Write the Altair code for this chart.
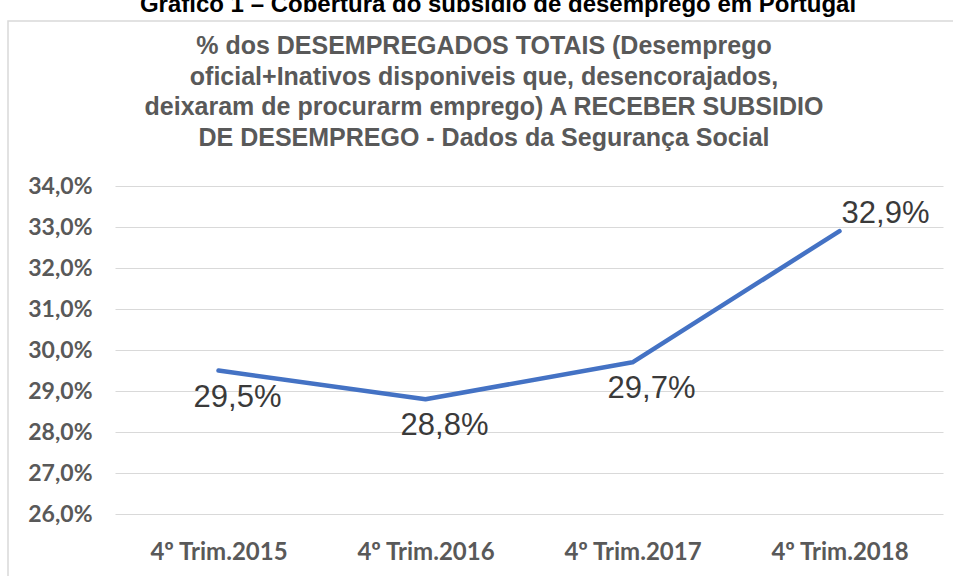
import altair as alt
import pandas as pd

# ---- data ----
categories = ["4º Trim.2015", "4º Trim.2016", "4º Trim.2017", "4º Trim.2018"]
values = [29.5, 28.8, 29.7, 32.9]
label_side = ["below", "below", "below", "above"]
y_ticks = [26, 27, 28, 29, 30, 31, 32, 33, 34]

title_lines = [
    "% dos DESEMPREGADOS  TOTAIS (Desemprego",
    "oficial+Inativos  disponiveis  que, desencorajados,",
    "deixaram  de procurarm emprego) A RECEBER SUBSIDIO",
    "DE DESEMPREGO  - Dados  da  Segurança  Social",
]
cut_title = "Gráfico 1 – Cobertura do subsídio de desemprego em Portugal"

df = pd.DataFrame({"cat": categories, "val": values, "side": label_side})

# ---- layout (plot area 115..943 x 186..514) ----
W, H = 828, 328
PL, PT = 115, 186

x_enc = alt.X("cat:N", sort=categories, title=None,
              axis=alt.Axis(labelAngle=0, labelFont="Lato", labelFontWeight="bold",
                            labelFontSize=24, labelColor="#595959", labelPadding=26,
                            ticks=False, domain=False, grid=False))
y_enc = alt.Y("val:Q", title=None,
              scale=alt.Scale(domain=[26, 34], nice=False, zero=False),
              axis=alt.Axis(values=y_ticks,
                            labelExpr="replace(format(datum.value, '.1f'), '.', ',') + '%'",
                            labelFont="Lato", labelFontWeight="bold", labelFontSize=23,
                            labelColor="#595959", labelPadding=23, ticks=False,
                            domain=False, gridColor="#D9D9D9", gridWidth=1.2))

base = alt.Chart(df)

line = base.mark_line(color="#4472C4", strokeWidth=4.5, strokeCap="round",
                      strokeJoin="round").encode(x=x_enc, y=y_enc)

lbl = base.transform_calculate(
    txt="replace(format(datum.val, '.1f'), '.', ',') + '%'"
)
below = lbl.transform_filter("datum.side == 'below'").mark_text(
    font="Liberation Sans", fontSize=31, color="#3A3A3A", dx=19, dy=27,
    baseline="middle", align="center"
).encode(x=alt.X("cat:N", sort=categories), y=alt.Y("val:Q"), text="txt:N")
above = lbl.transform_filter("datum.side == 'above'").mark_text(
    font="Liberation Sans", fontSize=31, color="#3A3A3A", dx=46, dy=-17,
    baseline="middle", align="center"
).encode(x=alt.X("cat:N", sort=categories), y=alt.Y("val:Q"), text="txt:N")

one = alt.Chart(pd.DataFrame({"a": [0]}))

frame = one.mark_rect(filled=False, stroke="#D9D9D9", strokeWidth=1.5).encode(
    x=alt.value(8 - PL), x2=alt.value(970 - PL),
    y=alt.value(21 - PT), y2=alt.value(600 - PT))

title = one.mark_text(font="Liberation Sans", fontWeight="bold", fontSize=25,
                      color="#595959", align="center", baseline="middle",
                      lineHeight=30.7).encode(
    x=alt.value(484 - PL), y=alt.value(46 - PT), text=alt.value(title_lines))

cut = one.mark_text(font="Liberation Sans", fontWeight="bold", fontSize=24,
                    color="#000000", align="center", baseline="alphabetic").encode(
    x=alt.value(498 - PL), y=alt.value(12 - PT), text=alt.value(cut_title))

chart = alt.layer(frame, cut, title, line, below, above).properties(
    width=W, height=H,
    autosize=alt.AutoSizeParams(type="none"),
    padding={"left": PL, "top": PT, "right": 953 - PL - W, "bottom": 576 - PT - H},
    background="white",
).configure_view(stroke=None)

chart.save("out.html", embed_options={"renderer": "svg", "actions": False})
